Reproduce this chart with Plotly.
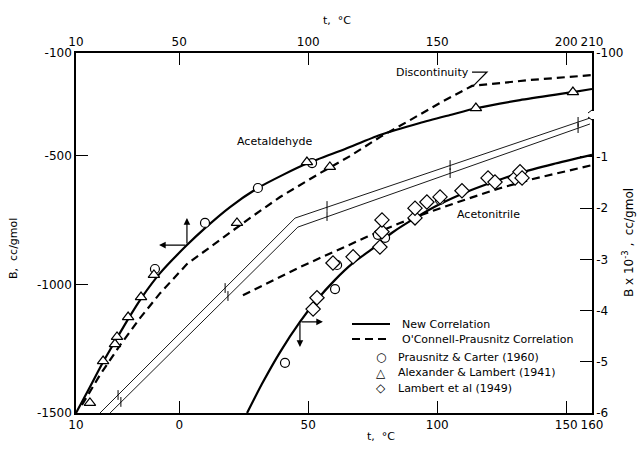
import plotly.graph_objects as go

# ---------------- data ----------------
# Acetaldehyde (top t axis, left B axis)
ald_new_t = [10, 15.4, 20.5, 25.9, 30.9, 35.6, 42.6, 53.0, 60.0, 69.7, 80.5, 90.2, 99.9, 114.3, 127.8, 143.3, 155.0, 165.4, 182.1, 202.6, 210]
ald_new_B = [-1500, -1399, -1302, -1208, -1123, -1049, -956, -847, -781, -699, -625, -574, -528, -473, -419, -372, -341, -314, -283, -252, -240]
ald_ocp_t = [12.3, 19.3, 27.1, 34.8, 42.6, 53.0, 65.8, 77.4, 89.1, 104.6, 116.2, 127.8, 139.5, 151.1, 163.5, 186.0, 210]
ald_ocp_B = [-1469, -1352, -1236, -1131, -1034, -921, -827, -742, -660, -567, -501, -427, -361, -294, -228, -205, -186]
ald_circ_t = [40.6, 60, 80.5, 101.5]
ald_circ_B = [-940, -761, -625, -528]
ald_tri_t = [15.4, 20.5, 25.1, 25.9, 30.2, 35.2, 40.2, 72.4, 99.5, 108.4, 165, 202.6]
ald_tri_B = [-1461, -1298, -1232, -1204, -1127, -1049, -963, -761, -524, -543, -314, -252]

# Acetonitrile (bottom t axis, right B x 10^-3 axis)
nit_new_t = [26.3, 32.1, 39.1, 46.8, 53.4, 60.4, 67.4, 74.7, 82.5, 92.2, 101.1, 111.6, 121.6, 132.1, 144.9, 160]
nit_new_B = [-6.0, -5.43, -4.81, -4.22, -3.79, -3.40, -3.07, -2.80, -2.48, -2.17, -1.92, -1.68, -1.49, -1.31, -1.14, -0.96]
nit_ocp_t = [24.7, 35.2, 46.8, 59.6, 72.8, 85.6, 98.4, 111.6, 124.3, 137.1, 150.3, 160]
nit_ocp_B = [-3.70, -3.44, -3.15, -2.86, -2.56, -2.29, -2.05, -1.82, -1.61, -1.43, -1.27, -1.16]
nit_circ_t = [41, 60.4, 61.2, 77, 79.8, 101.1]
nit_circ_B = [-5.02, -3.58, -3.11, -2.52, -2.58, -1.84]
nit_dia_t = [51.9, 53.4, 59.6, 67.4, 77.8, 78.6, 78.6, 91.4, 91.4, 96, 101.1, 109.6, 119.7, 122.4, 130.2, 132.1, 132.9]
nit_dia_B = [-3.97, -3.75, -3.07, -2.95, -2.76, -2.46, -2.23, -2.19, -2.0, -1.88, -1.78, -1.66, -1.41, -1.49, -1.41, -1.29, -1.41]

# thin guide lines (bottom t axis, left B axis)
thin1_t = [-30.7, 44.9, 159.2]
thin1_B = [-1500, -742, -353]
thin2_t = [-26.8, 46.0, 159.2]
thin2_B = [-1500, -777, -376]
brk1_t = [-23.7, 17.8, 57.3, 105, 154.6]
brk1_B = [-1430, -1014, -695, -536, -368]
brk2_t = [-22.6, 18.9, 57.3, 105, 154.6]
brk2_B = [-1457, -1045, -734, -567, -392]

# axis ticks
bot_vals = [-40, 0, 50, 100, 150, 160]
bot_text = ["10", "0", "50", "100", "150", "160"]
top_vals = [10, 50, 100, 150, 200, 210]
top_text = ["10", "50", "100", "150", "200", "210"]
left_vals = [-1500, -1000, -500, -100]
left_text = ["-1500", "-1000", "-500", "-100"]
right_vals = [-6, -5, -4, -3, -2, -1, 1.03]
right_text = ["-6", "-5", "-4", "-3", "-2", "-1", "-100"]

legend_lines = ["New Correlation", "O'Connell-Prausnitz Correlation"]
legend_marks = [("\u25cb", "Prausnitz & Carter (1960)"),
                ("\u25b3", "Alexander & Lambert (1941)"),
                ("\u25c7", "Lambert et al (1949)")]

FONT = "DejaVu Sans"
L, R, T, B = 76, 592, 53, 413


def px(xp):
    return (xp - L) / (R - L)


def py(yp):
    return (B - yp) / (B - T)


fig = go.Figure()

solid = dict(color="black", width=2.2)
dashed = dict(color="black", width=2.2, dash="8px,5px")
mk = dict(color="white", size=9, line=dict(color="black", width=1.2))

fig.add_trace(go.Scatter(x=ald_new_t, y=ald_new_B, xaxis="x2", yaxis="y", mode="lines",
                         line=solid, line_shape="spline", line_smoothing=0.6))
fig.add_trace(go.Scatter(x=ald_ocp_t, y=ald_ocp_B, xaxis="x2", yaxis="y", mode="lines",
                         line=dashed))
fig.add_trace(go.Scatter(x=nit_new_t, y=nit_new_B, xaxis="x", yaxis="y2", mode="lines",
                         line=solid, line_shape="spline", line_smoothing=0.6))
fig.add_trace(go.Scatter(x=nit_ocp_t, y=nit_ocp_B, xaxis="x", yaxis="y2", mode="lines",
                         line=dashed))
for tt, bb in [(thin1_t, thin1_B), (thin2_t, thin2_B)]:
    fig.add_trace(go.Scatter(x=tt, y=bb, xaxis="x", yaxis="y", mode="lines",
                             line=dict(color="black", width=0.9)))
for tt, bb in [(brk1_t, brk1_B), (brk2_t, brk2_B)]:
    fig.add_trace(go.Scatter(x=tt, y=bb, xaxis="x", yaxis="y", mode="markers",
                             marker=dict(symbol="line-ns", size=7, line=dict(color="black", width=1)),
                             hoverinfo="skip"))

fig.add_trace(go.Scatter(x=ald_circ_t, y=ald_circ_B, xaxis="x2", yaxis="y", mode="markers",
                         marker=dict(symbol="circle", **mk)))
fig.add_trace(go.Scatter(x=nit_circ_t, y=nit_circ_B, xaxis="x", yaxis="y2", mode="markers",
                         marker=dict(symbol="circle", **mk)))
fig.add_trace(go.Scatter(x=ald_tri_t, y=ald_tri_B, xaxis="x2", yaxis="y", mode="markers",
                         marker=dict(symbol="triangle-up", color="white", size=10,
                                     line=dict(color="black", width=1.2))))
fig.add_trace(go.Scatter(x=nit_dia_t, y=nit_dia_B, xaxis="x", yaxis="y2", mode="markers",
                         marker=dict(symbol="diamond", color="white", size=11,
                                     line=dict(color="black", width=1.2))))

# arrows
arrows = [
    dict(x=53.0, y=-742, ax=53.0, ay=-847, xref="x2", yref="y", axref="x2", ayref="y"),
    dict(x=42.2, y=-847, ax=53.0, ay=-847, xref="x2", yref="y", axref="x2", ayref="y"),
    dict(x=46.8, y=-4.71, ax=46.8, ay=-4.22, xref="x", yref="y2", axref="x", ayref="y2"),
    dict(x=55.7, y=-4.22, ax=46.8, ay=-4.22, xref="x", yref="y2", axref="x", ayref="y2"),
]
for a in arrows:
    fig.add_annotation(showarrow=True, text="", arrowhead=2, arrowsize=1.1, arrowwidth=1.2,
                       arrowcolor="black", **a)

# discontinuity leader
fig.add_shape(type="path", xref="x2", yref="y", path="M 163.5 -174 L 169.3 -174 L 164.0 -228",
              line=dict(color="black", width=1.2))

# right axis break
fig.add_shape(type="line", xref="paper", yref="paper", x0=1, x1=1, y0=py(111), y1=py(119),
              line=dict(color="white", width=4), layer="above")
fig.add_shape(type="path", xref="paper", yref="paper",
              path=f"M 1 {py(110)} L {px(588)} {py(113)}", line=dict(color="black", width=1))
fig.add_shape(type="path", xref="paper", yref="paper",
              path=f"M 1 {py(120)} L {px(588)} {py(117)}", line=dict(color="black", width=1))

txt = dict(font=dict(family=FONT, size=11, color="black"), showarrow=False)
fig.add_annotation(x=87.1, y=-446, xref="x2", yref="y", text="Acetaldehyde", **txt)
fig.add_annotation(x=119.7, y=-2.13, xref="x", yref="y2", text="Acetonitrile", **txt)
fig.add_annotation(x=163, y=-174, xref="x2", yref="y", text="Discontinuity", xanchor="right", **txt)

# axis titles
tfont = dict(family=FONT, size=11, color="black")
fig.add_annotation(x=px(337), y=py(20), xref="paper", yref="paper", text="t,  \u00b0C",
                   xanchor="center", yanchor="middle", font=tfont, showarrow=False)
fig.add_annotation(x=px(381), y=py(436), xref="paper", yref="paper", text="t,  \u00b0C",
                   xanchor="center", yanchor="middle", font=tfont, showarrow=False)
fig.add_annotation(x=px(13), y=py(249), xref="paper", yref="paper", text="B,  cc/gmol",
                   xanchor="center", yanchor="middle", textangle=-90, font=tfont, showarrow=False)
fig.add_annotation(x=px(628), y=py(243), xref="paper", yref="paper",
                   text="B x 10<sup>-3</sup> ,  cc/gmol", xanchor="center", yanchor="middle",
                   textangle=-90, font=dict(family=FONT, size=12, color="black"), showarrow=False)

# manual legend
for i, name in enumerate(legend_lines):
    yy = 324 + 15 * i
    fig.add_shape(type="line", xref="paper", yref="paper", x0=px(352), x1=px(390), y0=py(yy), y1=py(yy),
                  line=solid if i == 0 else dashed)
    fig.add_annotation(x=px(400), y=py(yy), xref="paper", yref="paper", text=name, xanchor="left",
                       yanchor="middle", **txt)
for i, (sym, name) in enumerate(legend_marks):
    yy = 357 + 15.5 * i
    fig.add_annotation(x=px(381), y=py(yy), xref="paper", yref="paper", text=sym, xanchor="center",
                       yanchor="middle", font=dict(family=FONT, size=12, color="black"), showarrow=False)
    fig.add_annotation(x=px(396), y=py(yy), xref="paper", yref="paper", text=name, xanchor="left",
                       yanchor="middle", **txt)

ax_common = dict(showgrid=False, zeroline=False, showline=True, linecolor="black", linewidth=1.6,
                 ticks="inside", ticklen=12, tickwidth=1.2, tickcolor="black",
                 tickfont=dict(family=FONT, size=12, color="black"))

fig.update_layout(
    width=637, height=451,
    margin=dict(l=L, r=637 - R, t=T, b=451 - B),
    paper_bgcolor="white", plot_bgcolor="white",
    font=dict(family=FONT, color="black"),
    xaxis=dict(range=[-40, 160], tickmode="array", tickvals=bot_vals, ticktext=bot_text, **ax_common),
    xaxis2=dict(range=[10, 210], overlaying="x", side="top", tickmode="array", tickvals=top_vals,
                ticktext=top_text, anchor="y", **ax_common),
    yaxis=dict(range=[-1500, -100], tickmode="array", tickvals=left_vals, ticktext=left_text, **ax_common),
    yaxis2=dict(range=[-6.0, 1.03], overlaying="y", side="right", tickmode="array", tickvals=right_vals,
                ticktext=right_text, anchor="x", **ax_common),
    showlegend=False,
)
fig.write_html("out.html")
